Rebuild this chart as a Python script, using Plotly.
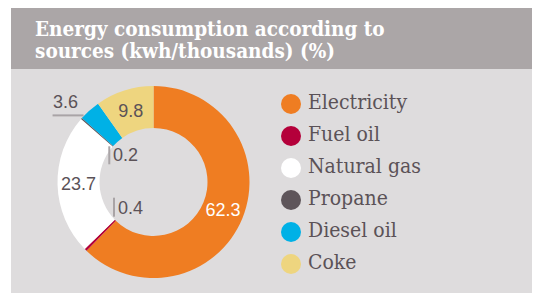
import math
import plotly.graph_objects as go

W, H = 533, 293

labels = ["Electricity", "Fuel oil", "Natural gas", "Propane", "Diesel oil", "Coke"]
values = [62.3, 0.4, 23.7, 0.2, 3.6, 9.8]
colors = ["#ef7d22", "#b4003a", "#ffffff", "#5e555a", "#00b1e6", "#eed57f"]
title_lines = ["Energy consumption according to", "sources (kwh/thousands) (%)"]

TEXT_DARK = "#5b5257"
LINE_GRAY = "#a9a4a6"
NUM_FONT = "Liberation Sans"
SERIF = "DejaVu Serif Condensed, DejaVu Serif"

# donut geometry in pixels
cx, cy, R = 153.5, 182.0, 96.0
hole = 0.5625
r_in = R * hole


def px(x):
    return x / W


def py(y):
    return 1 - y / H


# which slices get inside labels
inside = [True, False, True, False, False, True]
text = [f"{v:g}" if ins else "" for v, ins in zip(values, inside)]
tcolors = ["#ffffff" if i == 0 else TEXT_DARK for i in range(len(values))]

fig = go.Figure()

fig.add_trace(go.Pie(
    labels=labels, values=values, sort=False, direction="clockwise", rotation=0,
    hole=hole, marker=dict(colors=colors, line=dict(width=0)),
    text=text, textinfo="text", textposition="inside",
    insidetextorientation="horizontal",
    textfont=dict(family=NUM_FONT, size=18, color=tcolors),
    domain=dict(x=[px(cx - R), px(cx + R)], y=[py(cy + R), py(cy - R)]),
    showlegend=False, hoverinfo="label+value",
))

# slice mid-angles (clockwise from top)
total = sum(values)
mids = []
acc = 0
for v in values:
    mids.append((acc + v / 2) / total * 2 * math.pi)
    acc += v


def pt(i, rad):
    a = mids[i]
    return cx + rad * math.sin(a), cy - rad * math.cos(a)

shapes = [
    dict(type="rect", xref="paper", yref="paper", x0=px(11), x1=px(532), y0=py(69), y1=py(8),
         fillcolor="#aba6a7", line=dict(width=0), layer="below"),
    dict(type="rect", xref="paper", yref="paper", x0=px(11), x1=px(532), y0=py(293), y1=py(69),
         fillcolor="#dedcdd", line=dict(width=0), layer="below"),
]
annotations = []
for k, line in enumerate(title_lines):
    annotations.append(dict(
        x=px(33), y=py(29 + 21.5 * k), xref="paper", yref="paper", xanchor="left", yanchor="middle",
        text=f"<b>{line}</b>", showarrow=False,
        font=dict(family=SERIF, size=20.5, color="#ffffff")))

num_font = dict(family=NUM_FONT, size=18, color=TEXT_DARK)

# Diesel oil label (outside, underlined)
ax, ay = pt(4, R)
shapes.append(dict(type="line", xref="paper", yref="paper", x0=px(ax - 37), x1=px(ax - 6),
                   y0=py(ay + 5), y1=py(ay + 5), line=dict(color=LINE_GRAY, width=2)))
annotations.append(dict(x=px(ax - 24), y=py(ay - 8), xref="paper", yref="paper",
                        xanchor="center", yanchor="middle",
                        text=f"{values[4]:g}", showarrow=False, font=num_font))
# Propane label (in hole)
ax, ay = pt(3, r_in)
shapes.append(dict(type="line", xref="paper", yref="paper", x0=px(ax - 3.7), x1=px(ax - 3.7),
                   y0=py(ay), y1=py(ay + 18), line=dict(color=LINE_GRAY, width=2)))
annotations.append(dict(x=px(ax - 2), y=py(ay + 9), xref="paper", yref="paper",
                        xanchor="left", yanchor="middle",
                        text=f"{values[3]:g}", showarrow=False, font=num_font))
# Fuel oil label (in hole)
ax, ay = pt(1, r_in)
shapes.append(dict(type="line", xref="paper", yref="paper", x0=px(ax - 1.3), x1=px(ax - 1.3),
                   y0=py(ay - 22.5), y1=py(ay - 3.5), line=dict(color=LINE_GRAY, width=2)))
annotations.append(dict(x=px(ax + 0.5), y=py(ay - 12.5), xref="paper", yref="paper",
                        xanchor="left", yanchor="middle",
                        text=f"{values[1]:g}", showarrow=False, font=num_font))

# custom legend with round markers, on a pixel-space axis
ly0, ldy, lx = 104, 32, 291
fig.add_trace(go.Scatter(
    x=[lx] * len(labels), y=[ly0 + ldy * i for i in range(len(labels))],
    mode="markers", marker=dict(size=20, color=colors, line=dict(width=0)),
    xaxis="x", yaxis="y", showlegend=False, hoverinfo="skip"))
fig.add_trace(go.Scatter(
    x=[lx + 17] * len(labels), y=[ly0 + ldy * i for i in range(len(labels))],
    mode="text", text=labels, textposition="middle right",
    textfont=dict(family=SERIF, size=21, color=TEXT_DARK),
    xaxis="x", yaxis="y", showlegend=False, hoverinfo="skip"))

fig.update_layout(
    width=W, height=H, margin=dict(l=0, r=0, t=0, b=0),
    paper_bgcolor="#ffffff", plot_bgcolor="rgba(0,0,0,0)",
    xaxis=dict(range=[0, W], domain=[0, 1], visible=False, fixedrange=True),
    yaxis=dict(range=[H, 0], domain=[0, 1], visible=False, fixedrange=True),
    shapes=shapes, annotations=annotations,
)

fig.write_html("out.html", config={"displayModeBar": False},
               post_script="document.body.style.margin='0px';")
